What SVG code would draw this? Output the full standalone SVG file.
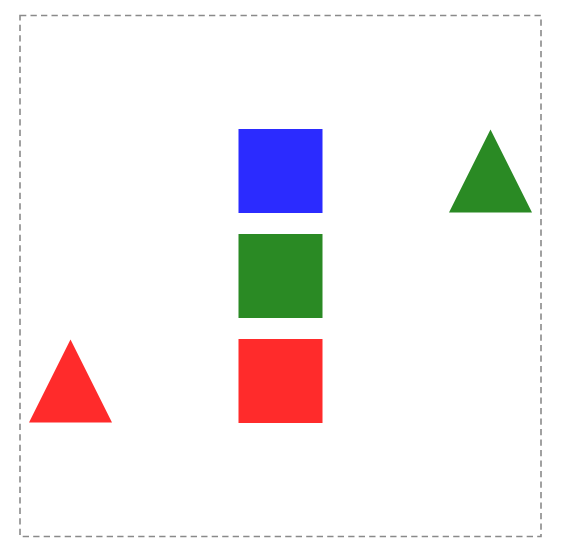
<svg xmlns="http://www.w3.org/2000/svg" width="561" height="557" viewBox="0 0 561 557">
<style>
.frame{fill:none;stroke:#8a8a8a;stroke-width:1.6;stroke-dasharray:6.3,4.2}
.blue{fill:#2b2bff}
.green{fill:#2a8a24}
.red{fill:#ff2b2b}
</style>
<rect width="561" height="557" fill="#ffffff"/>
<rect class="frame" x="20" y="15.5" width="521" height="521"/>
<g id="blue-square"><rect class="blue" x="238.5" y="129" width="84" height="84"/></g>
<g id="green-square"><rect class="green" x="238.5" y="234" width="84" height="84"/></g>
<g id="red-square"><rect class="red" x="238.5" y="339" width="84" height="84"/></g>
<g id="green-triangle"><polygon class="green" points="490.5,129.5 449,212.5 532,212.5"/></g>
<g id="red-triangle"><polygon class="red" points="70.5,339.5 29,422.5 112,422.5"/></g>
<g id="connectors"></g>
</svg>
